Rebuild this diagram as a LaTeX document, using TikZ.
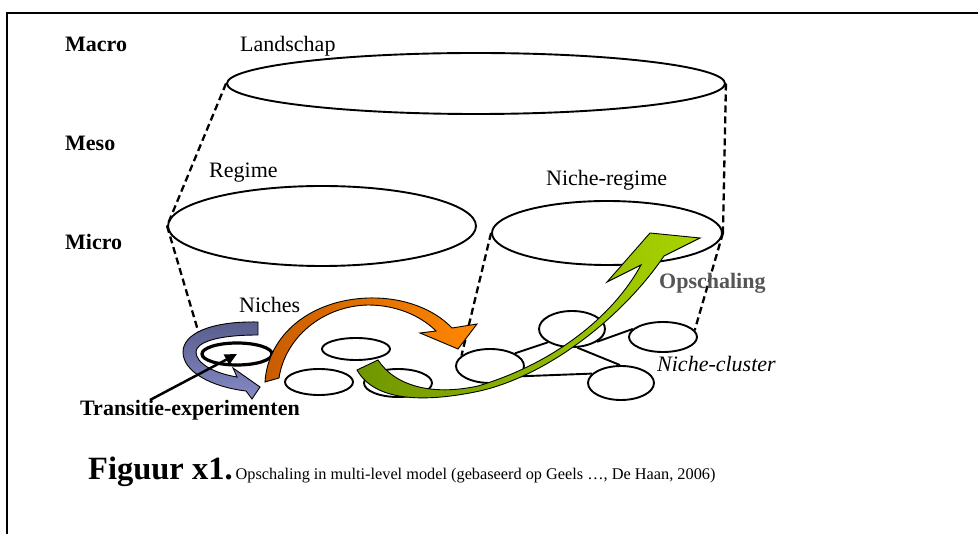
\documentclass[tikz,border=0pt]{standalone}
\usepackage{fontspec}
\setmainfont{Liberation Serif}
\usetikzlibrary{shapes.geometric,arrows.meta}
\definecolor{blueA}{RGB}{88,93,140}
\definecolor{blueB}{RGB}{132,138,196}
\definecolor{orA}{RGB}{200,92,0}
\definecolor{orB}{RGB}{255,136,0}
\definecolor{grA}{RGB}{112,150,0}
\definecolor{grB}{RGB}{170,212,0}
\definecolor{opsgray}{RGB}{85,85,85}
\begin{document}
\begin{tikzpicture}[x=1pt,y=-1pt,
  lab/.style={font=\fontsize{22}{26}\selectfont, inner sep=0pt, anchor=base west},
  bigell/.style={ellipse, draw, line width=1.9pt, inner sep=0pt},
  smallell/.style={ellipse, draw, fill=white, line width=1.9pt, inner sep=0pt},
  dashline/.style={line width=2.3pt, dash pattern=on 7pt off 4pt},
  linkline/.style={line width=1.9pt},
  swirl/.style={draw=black, line width=0.9pt, line join=miter}]
\useasboundingbox (0,0) rectangle (978,534);
% frame
\draw[line width=2.5pt] (7,534) -- (7,13) -- (978,13);

% big ellipses
\node[bigell, minimum width=498pt, minimum height=61pt] (L) at (476,83.5) {};
\node[bigell, minimum width=308pt, minimum height=80pt] (R) at (322,226) {};
\node[bigell, minimum width=230pt, minimum height=64pt] (NR) at (607,233) {};

% small ellipses
\node[smallell, minimum width=68pt, minimum height=22pt] (A) at (356,349) {};
\node[smallell, minimum width=68pt, minimum height=26pt] (B) at (319,382) {};
\node[smallell, minimum width=68pt, minimum height=28pt] (C) at (398,383) {};
\node[smallell, minimum width=68pt, minimum height=34pt] (D) at (490,366) {};
\node[smallell, minimum width=66pt, minimum height=36pt] (E) at (572,329) {};
\node[smallell, minimum width=68pt, minimum height=30pt] (F) at (663,337) {};
\node[smallell, minimum width=66pt, minimum height=34pt] (G) at (621,383) {};

% cluster links
\draw[linkline] (D.27) -- (E.-151);
\draw[linkline] (E.-27) -- (F.165);
\draw[linkline] (E.-74) -- (G.93);
\draw[linkline] (D.-20) -- (G.162);

% dashed
\coordinate (dl) at (199,334);
\draw[dashline] (L.west) -- (R.west);
\draw[dashline] (R.west) -- (dl);
\draw[dashline] (L.east) -- (NR.east);
\draw[dashline] (NR.east) -- (F.12);
\draw[dashline] (NR.west) -- (D.160);

% blue swirl
\draw[swirl, top color=blueA, bottom color=blueB]
  (258,322) .. controls (210,321) and (183,334) .. (183,352)
  .. controls (183,372) and (212,387) .. (246,391)
  -- (252,399) -- (260,387) -- (233,368) -- (237,377)
  .. controls (213,373) and (196,363) .. (196,352)
  .. controls (196,343) and (215,335) .. (258,335) -- cycle;

% niche (transition experiment) ellipse
\node[ellipse, draw, line width=3.2pt, inner sep=0pt, minimum width=70pt, minimum height=22pt] (N) at (237,354) {};

% orange arrow
\draw[swirl, left color=orA, right color=orB]
  (265,382) .. controls (268,335) and (310,300) .. (368,298)
  .. controls (405,297) and (435,310) .. (452,328)
  -- (477,324) -- (458,349) -- (420,333) -- (436,331)
  .. controls (420,315) and (395,305) .. (368,305)
  .. controls (322,306) and (285,338) .. (279,378) -- cycle;

% green arrow
\draw[swirl, left color=grA, right color=grB]
  (357,370) .. controls (375,402) and (425,402) .. (475,392)
  .. controls (545,378) and (622,318) .. (664,256)
  -- (700,238) -- (650,233) -- (607,282) -- (641,265)
  .. controls (612,318) and (552,364) .. (478,386)
  .. controls (432,396) and (395,386) .. (378,360) -- cycle;

% labels
\node[lab, font=\fontsize{22}{26}\selectfont\bfseries] (macro) at (65,52) {Macro};
\node[lab, font=\fontsize{22}{26}\selectfont\bfseries] (meso) at (65,151) {Meso};
\node[lab, font=\fontsize{22}{26}\selectfont\bfseries] (micro) at (65,250) {Micro};
\node[lab] (land) at (240,52) {Landschap};
\node[lab] (reg) at (209,178) {Regime};
\node[lab] (nreg) at (546,186) {Niche-regime};
\node[lab] (nich) at (239,313) {Niches};
\node[lab, font=\fontsize{22}{26}\selectfont\bfseries, text=opsgray] (ops) at (659,289) {Opschaling};
\node[lab, font=\fontsize{22}{26}\selectfont\itshape] (ncl) at (657,372) {Niche-cluster};
\node[lab, font=\fontsize{22}{26}\selectfont\bfseries] (trans) at (80,416) {Transitie-experimenten};

% pointer arrow
\coordinate (ps) at (150,400);
\draw[line width=2.5pt, -{Triangle[length=12pt,width=11pt]}] (ps) -- (N.center);

% caption
\node[inner sep=0pt, anchor=base west] (cap) at (88,480)
  {{\fontsize{32.5}{36}\selectfont\bfseries Figuur x1.}\hspace{3pt}{\fontsize{16.3}{19}\selectfont Opschaling in multi-level model (gebaseerd op Geels …, De Haan, 2006)}};
\end{tikzpicture}
\end{document}
